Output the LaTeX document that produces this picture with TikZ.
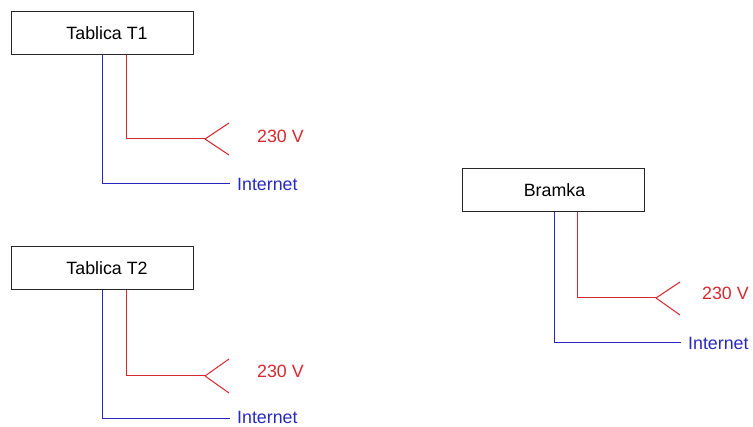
\documentclass[tikz,border=0pt]{standalone}
\usepackage{fontspec}
\setmainfont{Liberation Sans}
\definecolor{mainsred}{RGB}{214,40,48}
\definecolor{netblue}{RGB}{40,40,190}
\begin{document}
\begin{tikzpicture}[x=1pt,y=-1pt,
  unitbox/.style={draw=black!85, line width=1pt, minimum width=182pt,
    minimum height=43pt, inner sep=0pt, font=\fontsize{17.8}{21}\selectfont},
  mains/.style={draw=mainsred, line width=1pt},
  net/.style={draw=netblue, line width=1pt},
  lbl/.style={anchor=base west, inner sep=0pt, font=\fontsize{17.8}{21}\selectfont}]
\useasboundingbox (0,0) rectangle (753,427);

% Switchboard T1
\node[unitbox] (t1) at (102,33) {\hspace*{10pt}Tablica T1};
\coordinate (t1pwr) at (205,139);
\coordinate (t1net) at (230,184);
\draw[mains] ([xshift=24pt]t1.south) |- (t1pwr);
\draw[mains] (t1pwr) -- +(24,-16) (t1pwr) -- +(24,16);
\draw[net] (t1.south) |- (t1net);
\node[lbl, text=mainsred] (t1v) at (257,143) {230 V};
\node[lbl, text=netblue] (t1i) at (237,191) {Internet};

% Switchboard T2
\node[unitbox] (t2) at (102,268) {\hspace*{10pt}Tablica T2};
\coordinate (t2pwr) at (205,376);
\coordinate (t2net) at (230,419);
\draw[mains] ([xshift=24pt]t2.south) |- (t2pwr);
\draw[mains] (t2pwr) -- +(24,-17) (t2pwr) -- +(24,17);
\draw[net] (t2.south) |- (t2net);
\node[lbl, text=mainsred] (t2v) at (257,378) {230 V};
\node[lbl, text=netblue] (t2i) at (237,424) {Internet};

% Gate
\node[unitbox] (gate) at (553,190.5) {\hspace*{3pt}Bramka};
\coordinate (gpwr) at (656,298);
\coordinate (gnet) at (681,343);
\draw[mains] ([xshift=24pt]gate.south) |- (gpwr);
\draw[mains] (gpwr) -- +(24,-16) (gpwr) -- +(24,17);
\draw[net] ([xshift=1pt]gate.south) |- (gnet);
\node[lbl, text=mainsred] (gv) at (702,300) {230 V};
\node[lbl, text=netblue] (gi) at (688,350) {Internet};
\end{tikzpicture}
\end{document}
